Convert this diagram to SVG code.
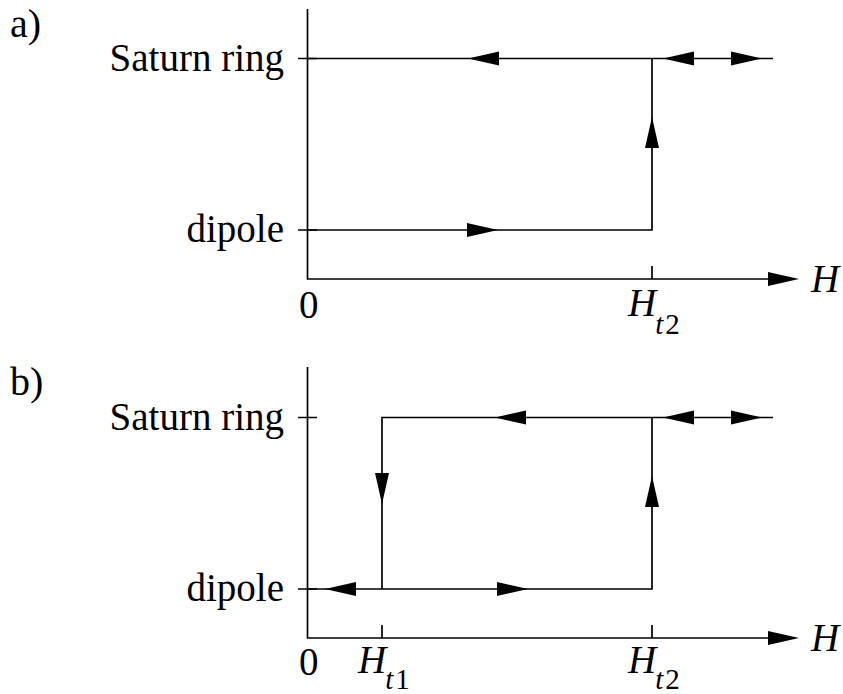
<svg xmlns="http://www.w3.org/2000/svg" xmlns:xlink="http://www.w3.org/1999/xlink" width="843" height="694" viewBox="0 0 843 694">
<style>
.ln{stroke:#000;stroke-width:1.7;fill:none}
.t{font-family:"Liberation Serif","Times New Roman",serif;font-size:39px;fill:#000}
.p{font-size:40px}
.i{font-style:italic}
.s{font-size:29px}
</style>
<defs>
<path id="ah" d="M0,0 L-31,-7 L-31,7 Z" fill="#000"/>
</defs>
<rect width="843" height="694" fill="#fff"/>
<g id="panel-a">
  <g id="axes-a">
    <path class="ln" d="M307.5,9 V279 H790"/>
    <path class="ln" d="M298,58.5 H317 M298,230 H317 M652,266 V279"/>
    <use xlink:href="#ah" transform="translate(799,279)"/>
  </g>
  <g id="labels-a">
    <text class="t p" x="10" y="37">a)</text>
    <text class="t" x="284" y="71" text-anchor="end">Saturn ring</text>
    <text class="t" x="284" y="242" text-anchor="end">dipole</text>
    <text class="t" x="299" y="318">0</text>
    <text class="t" x="628" y="316"><tspan class="i">H</tspan><tspan class="s i" dx="-1" dy="18">t</tspan><tspan class="s" dx="2">2</tspan></text>
    <text class="t i" x="811" y="292">H</text>
  </g>
  <g id="connectors-a">
    <path class="ln" d="M307,58.5 H773"/>
    <path class="ln" d="M307,230 H652 V58.5"/>
    <use xlink:href="#ah" transform="translate(468,58.5) rotate(180)"/>
    <use xlink:href="#ah" transform="translate(663,58.5) rotate(180)"/>
    <use xlink:href="#ah" transform="translate(762,58.5)"/>
    <use xlink:href="#ah" transform="translate(498,230)"/>
    <use xlink:href="#ah" transform="translate(652,117) rotate(-90)"/>
  </g>
</g>
<g id="panel-b">
  <g id="axes-b">
    <path class="ln" d="M307.5,367 V638 H790"/>
    <path class="ln" d="M298,417.5 H317 M298,589 H317 M382,625 V638 M652,625 V638"/>
    <use xlink:href="#ah" transform="translate(799,638)"/>
  </g>
  <g id="labels-b">
    <text class="t p" x="10" y="395">b)</text>
    <text class="t" x="284" y="430" text-anchor="end">Saturn ring</text>
    <text class="t" x="284" y="601" text-anchor="end">dipole</text>
    <text class="t" x="299" y="675">0</text>
    <text class="t" x="358" y="673"><tspan class="i">H</tspan><tspan class="s i" dx="-1" dy="16">t</tspan><tspan class="s" dx="2">1</tspan></text>
    <text class="t" x="628" y="673"><tspan class="i">H</tspan><tspan class="s i" dx="-1" dy="16">t</tspan><tspan class="s" dx="2">2</tspan></text>
    <text class="t i" x="811" y="651">H</text>
  </g>
  <g id="connectors-b">
    <path class="ln" d="M382,589 V417.5 H773"/>
    <path class="ln" d="M307,589 H652 V417.5"/>
    <use xlink:href="#ah" transform="translate(495,417.5) rotate(180)"/>
    <use xlink:href="#ah" transform="translate(663,417.5) rotate(180)"/>
    <use xlink:href="#ah" transform="translate(762,417.5)"/>
    <use xlink:href="#ah" transform="translate(382,504) rotate(90)"/>
    <use xlink:href="#ah" transform="translate(652,476) rotate(-90)"/>
    <use xlink:href="#ah" transform="translate(325,589) rotate(180)"/>
    <use xlink:href="#ah" transform="translate(528,589)"/>
  </g>
</g>
</svg>
